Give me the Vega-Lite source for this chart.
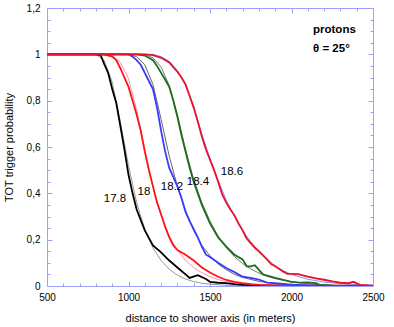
{
  "$schema": "https://vega.github.io/schema/vega-lite/v6.json",
  "width": 326,
  "height": 278,
  "autosize": {"type": "none"},
  "padding": {"left": 47, "top": 8, "right": 21, "bottom": 41},
  "background": "white",
  "config": {
    "view": {"stroke": null},
    "font": "Liberation Sans",
    "axis": {"grid": false, "domainColor": "#9f9fff", "tickColor": "#9f9fff", "labelFont": "Liberation Sans", "titleFont": "Liberation Sans", "labelColor": "#000", "titleColor": "#000", "titleFontWeight": "normal"}
  },
  "datasets": {
    "meas": [
      {"name":"17.8","x":500,"y":1},{"name":"17.8","x":800,"y":1},{"name":"17.8","x":830,"y":0.995},{"name":"17.8","x":850,"y":0.96},{"name":"17.8","x":875,"y":0.92},{"name":"17.8","x":900,"y":0.85},{"name":"17.8","x":925,"y":0.79},{"name":"17.8","x":950,"y":0.69},{"name":"17.8","x":975,"y":0.59},{"name":"17.8","x":1000,"y":0.48},{"name":"17.8","x":1025,"y":0.4},{"name":"17.8","x":1050,"y":0.33},{"name":"17.8","x":1100,"y":0.24},{"name":"17.8","x":1150,"y":0.175},{"name":"17.8","x":1200,"y":0.145},{"name":"17.8","x":1250,"y":0.11},{"name":"17.8","x":1300,"y":0.08},{"name":"17.8","x":1350,"y":0.05},{"name":"17.8","x":1375,"y":0.035},{"name":"17.8","x":1425,"y":0.047},{"name":"17.8","x":1475,"y":0.03},{"name":"17.8","x":1500,"y":0.018},{"name":"17.8","x":1550,"y":0.014},{"name":"17.8","x":1600,"y":0.012},{"name":"17.8","x":1650,"y":0.008},{"name":"17.8","x":1700,"y":0.005},{"name":"17.8","x":1800,"y":0.003},{"name":"17.8","x":1900,"y":0.002},{"name":"17.8","x":2000,"y":0.001},{"name":"17.8","x":2500,"y":0},
      {"name":"18","x":500,"y":1},{"name":"18","x":850,"y":1},{"name":"18","x":900,"y":0.99},{"name":"18","x":925,"y":0.975},{"name":"18","x":950,"y":0.94},{"name":"18","x":975,"y":0.9},{"name":"18","x":1000,"y":0.86},{"name":"18","x":1025,"y":0.8},{"name":"18","x":1050,"y":0.74},{"name":"18","x":1075,"y":0.67},{"name":"18","x":1100,"y":0.58},{"name":"18","x":1125,"y":0.5},{"name":"18","x":1150,"y":0.43},{"name":"18","x":1175,"y":0.36},{"name":"18","x":1200,"y":0.31},{"name":"18","x":1225,"y":0.255},{"name":"18","x":1250,"y":0.21},{"name":"18","x":1275,"y":0.175},{"name":"18","x":1300,"y":0.155},{"name":"18","x":1350,"y":0.135},{"name":"18","x":1400,"y":0.11},{"name":"18","x":1450,"y":0.08},{"name":"18","x":1500,"y":0.058},{"name":"18","x":1550,"y":0.04},{"name":"18","x":1600,"y":0.026},{"name":"18","x":1650,"y":0.018},{"name":"18","x":1700,"y":0.012},{"name":"18","x":1750,"y":0.008},{"name":"18","x":1800,"y":0.005},{"name":"18","x":1900,"y":0.003},{"name":"18","x":2000,"y":0.002},{"name":"18","x":2100,"y":0.001},{"name":"18","x":2500,"y":0},
      {"name":"18.2","x":500,"y":1},{"name":"18.2","x":1000,"y":1},{"name":"18.2","x":1025,"y":0.99},{"name":"18.2","x":1050,"y":0.975},{"name":"18.2","x":1075,"y":0.955},{"name":"18.2","x":1100,"y":0.92},{"name":"18.2","x":1125,"y":0.885},{"name":"18.2","x":1150,"y":0.85},{"name":"18.2","x":1175,"y":0.77},{"name":"18.2","x":1200,"y":0.67},{"name":"18.2","x":1225,"y":0.58},{"name":"18.2","x":1250,"y":0.51},{"name":"18.2","x":1275,"y":0.47},{"name":"18.2","x":1300,"y":0.43},{"name":"18.2","x":1325,"y":0.38},{"name":"18.2","x":1350,"y":0.32},{"name":"18.2","x":1375,"y":0.28},{"name":"18.2","x":1400,"y":0.245},{"name":"18.2","x":1425,"y":0.21},{"name":"18.2","x":1450,"y":0.17},{"name":"18.2","x":1475,"y":0.135},{"name":"18.2","x":1500,"y":0.125},{"name":"18.2","x":1550,"y":0.1},{"name":"18.2","x":1600,"y":0.078},{"name":"18.2","x":1650,"y":0.06},{"name":"18.2","x":1700,"y":0.04},{"name":"18.2","x":1750,"y":0.035},{"name":"18.2","x":1800,"y":0.028},{"name":"18.2","x":1850,"y":0.015},{"name":"18.2","x":1900,"y":0.012},{"name":"18.2","x":1950,"y":0.009},{"name":"18.2","x":2000,"y":0.006},{"name":"18.2","x":2100,"y":0.003},{"name":"18.2","x":2200,"y":0.001},{"name":"18.2","x":2500,"y":0},
      {"name":"18.4","x":500,"y":1},{"name":"18.4","x":1050,"y":1},{"name":"18.4","x":1100,"y":0.995},{"name":"18.4","x":1150,"y":0.975},{"name":"18.4","x":1175,"y":0.95},{"name":"18.4","x":1200,"y":0.92},{"name":"18.4","x":1225,"y":0.89},{"name":"18.4","x":1250,"y":0.86},{"name":"18.4","x":1275,"y":0.8},{"name":"18.4","x":1300,"y":0.73},{"name":"18.4","x":1325,"y":0.65},{"name":"18.4","x":1350,"y":0.58},{"name":"18.4","x":1375,"y":0.51},{"name":"18.4","x":1400,"y":0.45},{"name":"18.4","x":1425,"y":0.4},{"name":"18.4","x":1450,"y":0.35},{"name":"18.4","x":1475,"y":0.31},{"name":"18.4","x":1500,"y":0.27},{"name":"18.4","x":1550,"y":0.21},{"name":"18.4","x":1600,"y":0.17},{"name":"18.4","x":1650,"y":0.135},{"name":"18.4","x":1700,"y":0.115},{"name":"18.4","x":1725,"y":0.085},{"name":"18.4","x":1750,"y":0.085},{"name":"18.4","x":1775,"y":0.09},{"name":"18.4","x":1800,"y":0.07},{"name":"18.4","x":1825,"y":0.05},{"name":"18.4","x":1850,"y":0.045},{"name":"18.4","x":1900,"y":0.035},{"name":"18.4","x":1950,"y":0.026},{"name":"18.4","x":2000,"y":0.018},{"name":"18.4","x":2050,"y":0.015},{"name":"18.4","x":2100,"y":0.016},{"name":"18.4","x":2150,"y":0.012},{"name":"18.4","x":2175,"y":0.004},{"name":"18.4","x":2250,"y":0.002},{"name":"18.4","x":2500,"y":0},
      {"name":"18.6","x":500,"y":1},{"name":"18.6","x":1100,"y":1},{"name":"18.6","x":1150,"y":0.997},{"name":"18.6","x":1200,"y":0.985},{"name":"18.6","x":1250,"y":0.965},{"name":"18.6","x":1275,"y":0.945},{"name":"18.6","x":1300,"y":0.925},{"name":"18.6","x":1325,"y":0.9},{"name":"18.6","x":1350,"y":0.87},{"name":"18.6","x":1375,"y":0.82},{"name":"18.6","x":1400,"y":0.77},{"name":"18.6","x":1425,"y":0.71},{"name":"18.6","x":1450,"y":0.645},{"name":"18.6","x":1475,"y":0.59},{"name":"18.6","x":1500,"y":0.545},{"name":"18.6","x":1525,"y":0.5},{"name":"18.6","x":1550,"y":0.45},{"name":"18.6","x":1575,"y":0.395},{"name":"18.6","x":1600,"y":0.36},{"name":"18.6","x":1625,"y":0.33},{"name":"18.6","x":1650,"y":0.305},{"name":"18.6","x":1675,"y":0.27},{"name":"18.6","x":1700,"y":0.24},{"name":"18.6","x":1725,"y":0.205},{"name":"18.6","x":1750,"y":0.185},{"name":"18.6","x":1775,"y":0.165},{"name":"18.6","x":1800,"y":0.15},{"name":"18.6","x":1850,"y":0.115},{"name":"18.6","x":1875,"y":0.095},{"name":"18.6","x":1900,"y":0.085},{"name":"18.6","x":1950,"y":0.062},{"name":"18.6","x":1975,"y":0.052},{"name":"18.6","x":2000,"y":0.052},{"name":"18.6","x":2040,"y":0.051},{"name":"18.6","x":2100,"y":0.04},{"name":"18.6","x":2150,"y":0.033},{"name":"18.6","x":2200,"y":0.027},{"name":"18.6","x":2250,"y":0.02},{"name":"18.6","x":2300,"y":0.014},{"name":"18.6","x":2350,"y":0.012},{"name":"18.6","x":2380,"y":0.018},{"name":"18.6","x":2420,"y":0.005},{"name":"18.6","x":2500,"y":0.002}
    ],
    "fit": [
      {"name":"17.8","x":500,"y":1},{"name":"17.8","x":800,"y":1},{"name":"17.8","x":850,"y":0.975},{"name":"17.8","x":900,"y":0.88},{"name":"17.8","x":950,"y":0.71},{"name":"17.8","x":1000,"y":0.52},{"name":"17.8","x":1050,"y":0.36},{"name":"17.8","x":1100,"y":0.245},{"name":"17.8","x":1150,"y":0.165},{"name":"17.8","x":1200,"y":0.11},{"name":"17.8","x":1250,"y":0.072},{"name":"17.8","x":1300,"y":0.047},{"name":"17.8","x":1350,"y":0.03},{"name":"17.8","x":1400,"y":0.019},{"name":"17.8","x":1450,"y":0.012},{"name":"17.8","x":1500,"y":0.008},{"name":"17.8","x":1600,"y":0.003},{"name":"17.8","x":1700,"y":0.001},{"name":"17.8","x":2500,"y":0},
      {"name":"18","x":500,"y":1},{"name":"18","x":850,"y":1},{"name":"18","x":900,"y":0.995},{"name":"18","x":950,"y":0.965},{"name":"18","x":1000,"y":0.895},{"name":"18","x":1050,"y":0.76},{"name":"18","x":1100,"y":0.59},{"name":"18","x":1150,"y":0.43},{"name":"18","x":1200,"y":0.305},{"name":"18","x":1250,"y":0.215},{"name":"18","x":1300,"y":0.155},{"name":"18","x":1350,"y":0.11},{"name":"18","x":1400,"y":0.08},{"name":"18","x":1450,"y":0.057},{"name":"18","x":1500,"y":0.04},{"name":"18","x":1550,"y":0.028},{"name":"18","x":1600,"y":0.019},{"name":"18","x":1700,"y":0.009},{"name":"18","x":1800,"y":0.004},{"name":"18","x":1900,"y":0.002},{"name":"18","x":2000,"y":0.001},{"name":"18","x":2500,"y":0},
      {"name":"18.2","x":500,"y":1},{"name":"18.2","x":1000,"y":1},{"name":"18.2","x":1050,"y":0.99},{"name":"18.2","x":1100,"y":0.955},{"name":"18.2","x":1150,"y":0.87},{"name":"18.2","x":1200,"y":0.72},{"name":"18.2","x":1250,"y":0.56},{"name":"18.2","x":1300,"y":0.43},{"name":"18.2","x":1350,"y":0.325},{"name":"18.2","x":1400,"y":0.24},{"name":"18.2","x":1450,"y":0.175},{"name":"18.2","x":1500,"y":0.13},{"name":"18.2","x":1550,"y":0.095},{"name":"18.2","x":1600,"y":0.07},{"name":"18.2","x":1650,"y":0.05},{"name":"18.2","x":1700,"y":0.037},{"name":"18.2","x":1800,"y":0.02},{"name":"18.2","x":1900,"y":0.01},{"name":"18.2","x":2000,"y":0.005},{"name":"18.2","x":2100,"y":0.002},{"name":"18.2","x":2500,"y":0},
      {"name":"18.4","x":500,"y":1},{"name":"18.4","x":1100,"y":1},{"name":"18.4","x":1150,"y":0.985},{"name":"18.4","x":1200,"y":0.945},{"name":"18.4","x":1250,"y":0.865},{"name":"18.4","x":1300,"y":0.74},{"name":"18.4","x":1350,"y":0.59},{"name":"18.4","x":1400,"y":0.46},{"name":"18.4","x":1450,"y":0.36},{"name":"18.4","x":1500,"y":0.28},{"name":"18.4","x":1550,"y":0.215},{"name":"18.4","x":1600,"y":0.165},{"name":"18.4","x":1650,"y":0.127},{"name":"18.4","x":1700,"y":0.097},{"name":"18.4","x":1750,"y":0.074},{"name":"18.4","x":1800,"y":0.056},{"name":"18.4","x":1850,"y":0.042},{"name":"18.4","x":1900,"y":0.032},{"name":"18.4","x":2000,"y":0.018},{"name":"18.4","x":2100,"y":0.01},{"name":"18.4","x":2200,"y":0.005},{"name":"18.4","x":2300,"y":0.002},{"name":"18.4","x":2500,"y":0},
      {"name":"18.6","x":500,"y":1},{"name":"18.6","x":1150,"y":1},{"name":"18.6","x":1200,"y":0.99},{"name":"18.6","x":1250,"y":0.97},{"name":"18.6","x":1300,"y":0.93},{"name":"18.6","x":1350,"y":0.87},{"name":"18.6","x":1400,"y":0.775},{"name":"18.6","x":1450,"y":0.655},{"name":"18.6","x":1500,"y":0.55},{"name":"18.6","x":1550,"y":0.455},{"name":"18.6","x":1600,"y":0.37},{"name":"18.6","x":1650,"y":0.3},{"name":"18.6","x":1700,"y":0.24},{"name":"18.6","x":1750,"y":0.19},{"name":"18.6","x":1800,"y":0.15},{"name":"18.6","x":1850,"y":0.115},{"name":"18.6","x":1900,"y":0.087},{"name":"18.6","x":1950,"y":0.066},{"name":"18.6","x":2000,"y":0.05},{"name":"18.6","x":2100,"y":0.029},{"name":"18.6","x":2200,"y":0.017},{"name":"18.6","x":2300,"y":0.01},{"name":"18.6","x":2400,"y":0.006},{"name":"18.6","x":2500,"y":0.003}
    ],
    "labels": [
      {"text":"17.8","x":917,"y":0.375},
      {"text":"18","x":1095,"y":0.406},
      {"text":"18.2","x":1267,"y":0.427},
      {"text":"18.4","x":1426,"y":0.449},
      {"text":"18.6","x":1635,"y":0.492}
    ],
    "notes": [
      {"text":"protons","x":2132,"y":1.105},
      {"text":"θ = 25°","x":2132,"y":1.023}
    ]
  },
  "resolve": {"axis": {"x": "independent", "y": "independent"}, "scale": {"color": "independent"}},
  "layer": [
    {
      "data": {"name": "fit"},
      "mark": {"type": "line", "strokeWidth": 1, "clip": true},
      "encoding": {
        "x": {"field": "x", "type": "quantitative", "scale": {"domain": [500, 2500], "nice": false},
          "axis": {"orient": "bottom", "title": "distance to shower axis (in meters)", "titleFontSize": 11, "titlePadding": 8,
            "values": [500,600,700,800,900,1000,1100,1200,1300,1400,1500,1600,1700,1800,1900,2000,2100,2200,2300,2400,2500],
            "labelExpr": "datum.value % 500 == 0 ? format(datum.value, 'd') : ''",
            "tickSize": {"condition": {"test": "datum.value % 500 == 0", "value": -5}, "value": -3},
            "labelPadding": 11, "labelFontSize": 10, "labelFlush": false, "labelOverlap": false}},
        "y": {"field": "y", "type": "quantitative", "scale": {"domain": [0, 1.2], "nice": false},
          "axis": {"orient": "left", "title": "TOT trigger probability", "titleFontSize": 11, "titlePadding": 12,
            "values": [0,0.05,0.1,0.15,0.2,0.25,0.3,0.35,0.4,0.45,0.5,0.55,0.6,0.65,0.7,0.75,0.8,0.85,0.9,0.95,1,1.05,1.1,1.15,1.2],
            "labelExpr": "abs(datum.value*5 - round(datum.value*5)) < 0.001 ? (datum.value == 0 ? '0' : (datum.value == 1 ? '1' : replace(format(datum.value, '.1f'), '.', ','))) : ''",
            "tickSize": {"condition": {"test": "abs(datum.value*5 - round(datum.value*5)) < 0.001", "value": -5}, "value": -3},
            "labelPadding": 12, "labelFontSize": 10, "labelFlush": false, "labelOverlap": false}},
        "color": {"field": "name", "type": "nominal", "legend": null,
          "scale": {"domain": ["17.8","18","18.2","18.4","18.6"], "range": ["#999999","#ff8fb8","#666666","#777777","#8a8aff"]}},
        "detail": {"field": "name"}
      }
    },
    {
      "data": {"name": "meas"},
      "mark": {"type": "line", "strokeWidth": 1.8, "clip": true},
      "encoding": {
        "x": {"field": "x", "type": "quantitative",
          "axis": {"orient": "top", "title": null, "labels": false,
            "values": [500,600,700,800,900,1000,1100,1200,1300,1400,1500,1600,1700,1800,1900,2000,2100,2200,2300,2400,2500],
            "tickSize": {"condition": {"test": "datum.value % 500 == 0", "value": -5}, "value": -3}}},
        "y": {"field": "y", "type": "quantitative",
          "axis": {"orient": "right", "title": null, "labels": false,
            "values": [0,0.05,0.1,0.15,0.2,0.25,0.3,0.35,0.4,0.45,0.5,0.55,0.6,0.65,0.7,0.75,0.8,0.85,0.9,0.95,1,1.05,1.1,1.15,1.2],
            "tickSize": {"condition": {"test": "abs(datum.value*5 - round(datum.value*5)) < 0.001", "value": -5}, "value": -3}}},
        "color": {"field": "name", "type": "nominal", "legend": null,
          "scale": {"domain": ["17.8","18","18.2","18.4","18.6"], "range": ["#000000","#ff1414","#3a3aff","#1b6e1b","#e8102a"]}},
        "detail": {"field": "name"}
      }
    },
    {
      "data": {"name": "labels"},
      "mark": {"type": "text", "fontSize": 11.5, "font": "Liberation Sans", "color": "#000"},
      "encoding": {
        "x": {"field": "x", "type": "quantitative", "axis": null},
        "y": {"field": "y", "type": "quantitative", "axis": null},
        "text": {"field": "text"}
      }
    },
    {
      "data": {"name": "notes"},
      "mark": {"type": "text", "fontSize": 11.5, "fontWeight": "bold", "font": "Liberation Sans", "align": "left", "color": "#000"},
      "encoding": {
        "x": {"field": "x", "type": "quantitative", "axis": null},
        "y": {"field": "y", "type": "quantitative", "axis": null},
        "text": {"field": "text"}
      }
    }
  ]
}
